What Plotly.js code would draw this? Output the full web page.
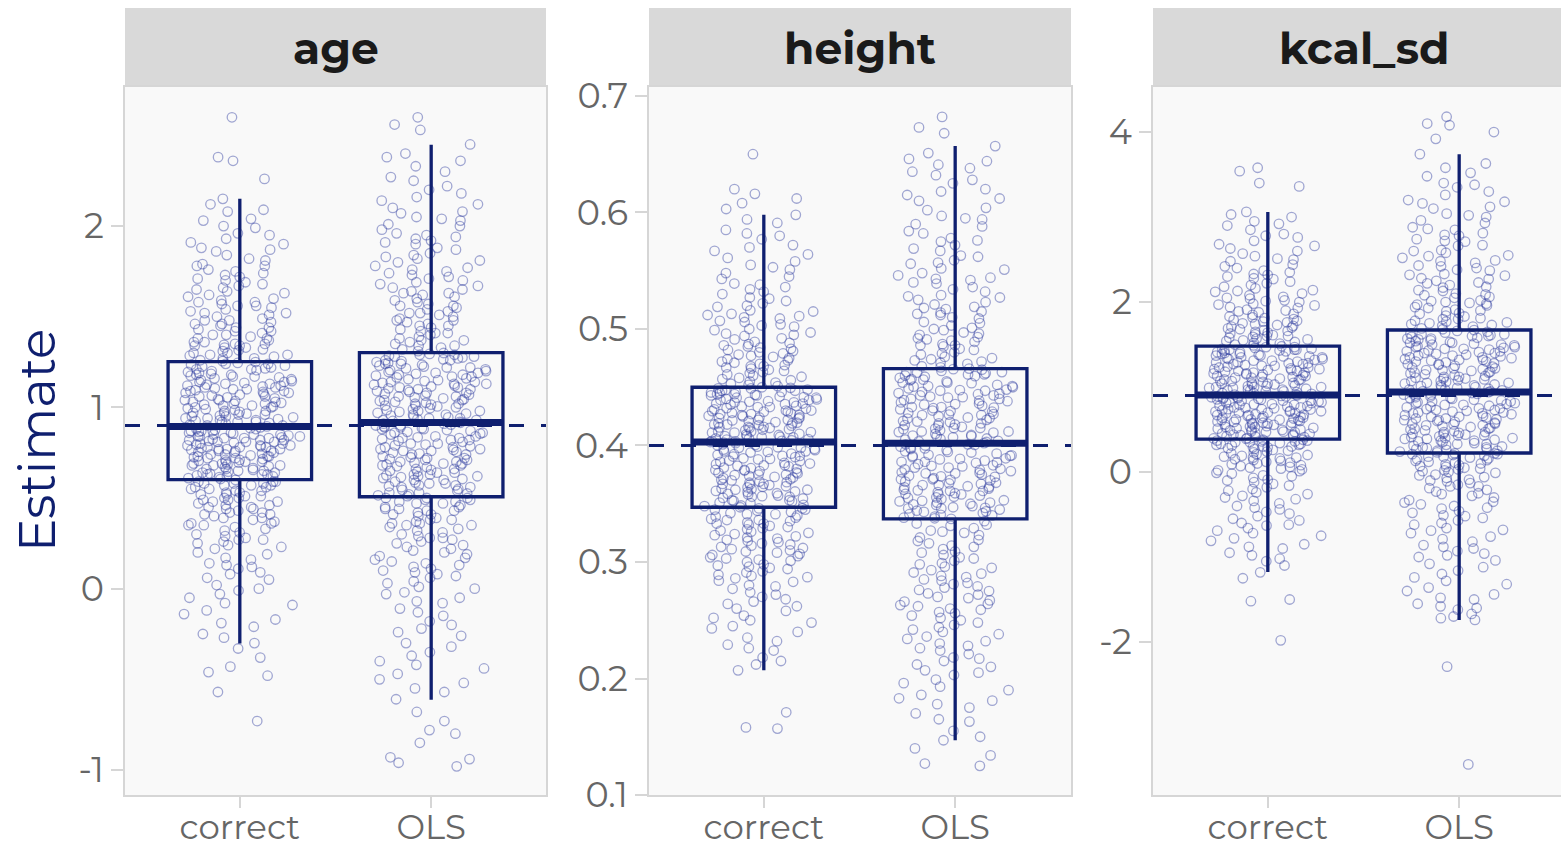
<!DOCTYPE html>
<html>
<head>
<meta charset="utf-8">
<script src="https://cdn.plot.ly/plotly-3.0.1.min.js"></script>
<style>
  html, body { margin: 0; padding: 0; background: #ffffff; }
  #chart { width: 1561px; height: 847px; }
</style>
</head>
<body>
<div id="chart"></div>
<script>
// Simulated coefficient estimates by method, one panel per covariate
const facets = ['age', 'height', 'kcal_sd'];
const methods = ['correct', 'OLS'];
const trueValues = [0.9, 0.4, 0.9];

// Box summaries: [correct, OLS] per covariate
const q1 = { age: [0.601, 0.507], height: [0.347, 0.337], kcal_sd: [0.388, 0.224] };
const median = { age: [0.894, 0.916], height: [0.403, 0.402], kcal_sd: [0.906, 0.941] };
const q3 = { age: [1.252, 1.302], height: [0.450, 0.466], kcal_sd: [1.482, 1.671] };
const whiskerLow = { age: [-0.303, -0.612], height: [0.207, 0.147], kcal_sd: [-1.176, -1.740] };
const whiskerHigh = { age: [2.151, 2.449], height: [0.598, 0.657], kcal_sd: [3.060, 3.740] };

// Individual replicate estimates
const ageCorrect = [
  -0.73, -0.57, -0.46, -0.43, -0.30, -0.27, -0.21, -0.17, -0.12, -0.09, -0.05, -0.01, 0.02, 0.06, 0.09,
  0.12, 0.14, 0.17, 0.19, 0.22, 0.24, 0.26, 0.28, 0.29, 0.31, 0.33, 0.34, 0.36, 0.37, 0.39, 0.40, 0.41,
  0.43, 0.44, 0.45, 0.46, 0.47, 0.48, 0.49, 0.50, 0.51, 0.51, 0.52, 0.53, 0.54, 0.54, 0.55, 0.56, 0.56,
  0.57, 0.57, 0.58, 0.58, 0.59, 0.59, 0.60, 0.42, 0.35, 0.27, 0.49,
  0.61, 0.62, 0.63, 0.63, 0.64, 0.65, 0.66, 0.66, 0.67, 0.68, 0.68, 0.69, 0.70, 0.70, 0.71, 0.72, 0.72,
  0.73, 0.74, 0.74, 0.75, 0.75, 0.76, 0.77, 0.77, 0.78, 0.78, 0.79, 0.79, 0.80, 0.80, 0.81, 0.81, 0.82,
  0.82, 0.83, 0.83, 0.84, 0.84, 0.85, 0.85, 0.86, 0.86, 0.87, 0.87, 0.88, 0.88, 0.89, 0.62, 0.65, 0.69,
  0.71, 0.73, 0.76, 0.79, 0.82, 0.84, 0.87, 0.64, 0.78,
  0.90, 0.90, 0.91, 0.92, 0.92, 0.93, 0.94, 0.94, 0.95, 0.96, 0.96, 0.97, 0.98, 0.98, 0.99, 1.00, 1.00,
  1.01, 1.02, 1.03, 1.03, 1.04, 1.05, 1.06, 1.06, 1.07, 1.08, 1.09, 1.09, 1.10, 1.11, 1.12, 1.12, 1.13,
  1.14, 1.15, 1.16, 1.17, 1.17, 1.18, 1.19, 1.20, 1.21, 1.22, 1.23, 1.24, 1.25, 0.93, 0.97, 1.01, 1.04,
  1.08, 1.11, 1.14, 1.18, 1.21, 0.95, 1.02, 1.13, 1.24,
  1.26, 1.27, 1.28, 1.29, 1.30, 1.31, 1.32, 1.33, 1.34, 1.35, 1.36, 1.37, 1.38, 1.39, 1.41, 1.42, 1.43,
  1.44, 1.46, 1.47, 1.48, 1.50, 1.51, 1.53, 1.54, 1.56, 1.57, 1.59, 1.61, 1.62, 1.64, 1.66, 1.68, 1.70,
  1.72, 1.74, 1.76, 1.79, 1.81, 1.84, 1.87, 1.90, 1.93, 1.96, 2.00, 2.04, 2.09, 2.15, 2.26, 2.36, 2.38,
  2.60, 1.29, 1.34, 1.40, 1.45, 1.52, 1.58, 1.65, 1.78,
  -0.38, -0.33, -0.25, -0.19, -0.14, -0.08, -0.03, 0.00, 0.05, 0.08, 0.11, 0.13, 0.16, 0.20, 0.23, 0.25,
  0.27, 0.30, 0.32, 0.35, 0.36, 0.38, 0.39, 0.41, 0.42, 0.44, 0.45, 0.46, 0.48, 0.50, 0.52, 0.53, 0.55,
  0.57, 0.58, 0.59, -0.48,
  0.605, 0.615, 0.625, 0.635, 0.645, 0.655, 0.665, 0.675, 0.685, 0.695, 0.705, 0.715, 0.725, 0.735, 0.745,
  0.755, 0.765, 0.775, 0.785, 0.795, 0.805, 0.815, 0.825, 0.835, 0.845, 0.855, 0.865, 0.875, 0.885, 0.63,
  0.68, 0.73, 0.77, 0.81, 0.85, 0.70, 0.76, 0.83,
  0.895, 0.905, 0.915, 0.925, 0.935, 0.945, 0.955, 0.965, 0.975, 0.985, 0.995, 1.005, 1.015, 1.025, 1.035,
  1.045, 1.055, 1.065, 1.075, 1.085, 1.095, 1.105, 1.115, 1.125, 1.135, 1.145, 1.155, 1.165, 1.175, 1.185,
  1.195, 1.205, 1.215, 1.225, 1.235, 1.245, 0.92, 1.10,
  1.255, 1.27, 1.285, 1.30, 1.315, 1.33, 1.345, 1.36, 1.38, 1.40, 1.42, 1.44, 1.46, 1.49, 1.52, 1.55, 1.58,
  1.60, 1.63, 1.67, 1.69, 1.71, 1.75, 1.78, 1.82, 1.86, 1.91, 1.95, 1.99, 2.03, 2.08, 2.12, 1.35, 1.48,
  1.56, 1.73, 1.88
];
const ageOLS = [
  -0.98, -0.96, -0.94, -0.93, -0.80, -0.78, -0.73, -0.61, -0.55, -0.50, -0.47, -0.44, -0.40, -0.35, -0.30,
  -0.26, -0.22, -0.18, -0.15, -0.11, -0.08, -0.05, -0.02, 0.01, 0.04, 0.06, 0.09, 0.11, 0.13, 0.16, 0.18,
  0.20, 0.22, 0.24, 0.26, 0.27, 0.29, 0.31, 0.32, 0.34, 0.35, 0.37, 0.38, 0.39, 0.41, 0.42, 0.43, 0.44,
  0.45, 0.46, 0.47, 0.48, 0.49, 0.50, 0.50, 0.14, 0.28, 0.36, 0.44, 0.07,
  0.51, 0.52, 0.53, 0.55, 0.56, 0.57, 0.58, 0.59, 0.60, 0.61, 0.62, 0.63, 0.64, 0.65, 0.66, 0.67, 0.68,
  0.69, 0.70, 0.71, 0.72, 0.73, 0.74, 0.75, 0.76, 0.77, 0.78, 0.79, 0.80, 0.81, 0.82, 0.83, 0.84, 0.85,
  0.86, 0.87, 0.88, 0.89, 0.90, 0.91, 0.54, 0.58, 0.62, 0.66, 0.70, 0.74, 0.78, 0.82, 0.86, 0.90, 0.56,
  0.63, 0.69, 0.76, 0.83, 0.88, 0.60, 0.72, 0.80, 0.91,
  0.92, 0.93, 0.94, 0.95, 0.96, 0.97, 0.98, 0.99, 1.00, 1.01, 1.02, 1.03, 1.04, 1.05, 1.06, 1.07, 1.08,
  1.09, 1.10, 1.11, 1.12, 1.13, 1.14, 1.15, 1.16, 1.17, 1.18, 1.19, 1.20, 1.21, 1.22, 1.23, 1.24, 1.25,
  1.26, 1.27, 1.28, 1.29, 1.30, 0.94, 0.98, 1.02, 1.06, 1.10, 1.14, 1.18, 1.22, 1.26, 0.96, 1.01, 1.08,
  1.13, 1.19, 1.24, 1.29, 0.93, 1.04, 1.11, 1.17, 1.28,
  1.31, 1.33, 1.35, 1.36, 1.38, 1.40, 1.42, 1.43, 1.45, 1.47, 1.49, 1.51, 1.53, 1.55, 1.57, 1.59, 1.61,
  1.63, 1.65, 1.67, 1.69, 1.71, 1.73, 1.75, 1.77, 1.80, 1.82, 1.85, 1.87, 1.90, 1.92, 1.95, 1.98, 2.01,
  2.04, 2.07, 2.10, 2.14, 2.18, 2.22, 2.27, 2.33, 2.36, 2.40, 2.45, 2.53, 2.56, 2.60, 1.34, 1.41, 1.48,
  1.56, 1.64, 1.72, 1.83, 1.94, 2.05, 1.37, 1.52, 1.68,
  -0.85, -0.68, -0.57, -0.52, -0.42, -0.37, -0.32, -0.24, -0.20, -0.13, -0.07, -0.03, 0.00, 0.03, 0.08,
  0.10, 0.12, 0.15, 0.17, 0.19, 0.21, 0.23, 0.25, 0.28, 0.30, 0.33, 0.35, 0.36, 0.38, 0.40, 0.41, 0.43,
  0.45, 0.47, 0.48, 0.49, 0.50,
  0.515, 0.525, 0.545, 0.565, 0.585, 0.605, 0.615, 0.625, 0.645, 0.655, 0.675, 0.685, 0.695, 0.715, 0.725,
  0.745, 0.755, 0.765, 0.785, 0.795, 0.815, 0.825, 0.835, 0.855, 0.865, 0.875, 0.885, 0.895, 0.905, 0.915,
  0.57, 0.64, 0.71, 0.77, 0.84, 0.89, 0.53, 0.68,
  0.925, 0.935, 0.945, 0.955, 0.965, 0.975, 0.985, 0.995, 1.005, 1.015, 1.025, 1.035, 1.045, 1.055, 1.065,
  1.075, 1.085, 1.095, 1.105, 1.115, 1.125, 1.135, 1.145, 1.155, 1.165, 1.175, 1.185, 1.195, 1.205, 1.215,
  1.225, 1.235, 1.245, 1.255, 1.265, 1.275, 1.285, 1.295,
  1.32, 1.34, 1.37, 1.39, 1.41, 1.44, 1.46, 1.48, 1.50, 1.52, 1.54, 1.56, 1.58, 1.60, 1.62, 1.66, 1.70,
  1.74, 1.78, 1.81, 1.84, 1.88, 1.91, 1.96, 2.00, 2.03, 2.08, 2.12, 2.16, 2.20, 2.25, 2.30, 2.38, 1.45,
  1.63, 1.76, 1.93
];
const heightCorrect = [
  0.157, 0.158, 0.171, 0.207, 0.212, 0.218, 0.224, 0.229, 0.235, 0.240, 0.245, 0.250, 0.254, 0.258, 0.262,
  0.266, 0.270, 0.274, 0.277, 0.280, 0.283, 0.286, 0.289, 0.292, 0.295, 0.297, 0.300, 0.302, 0.305, 0.307,
  0.309, 0.311, 0.313, 0.315, 0.317, 0.319, 0.321, 0.323, 0.325, 0.327, 0.328, 0.330, 0.332, 0.333, 0.335,
  0.336, 0.338, 0.339, 0.341, 0.342, 0.344, 0.345, 0.346, 0.347, 0.226, 0.264, 0.288, 0.303, 0.318, 0.334,
  0.348, 0.349, 0.351, 0.352, 0.353, 0.355, 0.356, 0.357, 0.358, 0.360, 0.361, 0.362, 0.363, 0.365, 0.366,
  0.367, 0.368, 0.369, 0.370, 0.372, 0.373, 0.374, 0.375, 0.376, 0.377, 0.379, 0.380, 0.381, 0.382, 0.383,
  0.384, 0.386, 0.387, 0.388, 0.389, 0.390, 0.391, 0.393, 0.394, 0.395, 0.396, 0.397, 0.398, 0.400, 0.401,
  0.402, 0.403, 0.356, 0.371, 0.385, 0.398, 0.364, 0.378, 0.392,
  0.404, 0.405, 0.406, 0.407, 0.408, 0.409, 0.410, 0.411, 0.412, 0.413, 0.414, 0.415, 0.416, 0.417, 0.418,
  0.419, 0.420, 0.421, 0.422, 0.423, 0.424, 0.425, 0.426, 0.427, 0.428, 0.429, 0.430, 0.431, 0.432, 0.433,
  0.434, 0.435, 0.436, 0.437, 0.438, 0.439, 0.440, 0.441, 0.442, 0.443, 0.444, 0.445, 0.446, 0.447, 0.448,
  0.449, 0.450, 0.407, 0.415, 0.422, 0.429, 0.436, 0.444, 0.411, 0.419, 0.426, 0.433, 0.441, 0.447, 0.404,
  0.452, 0.454, 0.456, 0.458, 0.460, 0.462, 0.464, 0.466, 0.468, 0.470, 0.472, 0.474, 0.476, 0.479, 0.481,
  0.484, 0.486, 0.489, 0.491, 0.494, 0.497, 0.500, 0.503, 0.506, 0.509, 0.512, 0.515, 0.519, 0.522, 0.526,
  0.530, 0.534, 0.538, 0.543, 0.548, 0.553, 0.558, 0.564, 0.570, 0.577, 0.585, 0.591, 0.598, 0.608, 0.616,
  0.620, 0.650, 0.457, 0.463, 0.471, 0.478, 0.487, 0.495, 0.504, 0.513, 0.524, 0.536, 0.551, 0.567, 0.582,
  0.215, 0.232, 0.243, 0.252, 0.260, 0.268, 0.272, 0.279, 0.284, 0.287, 0.291, 0.294, 0.298, 0.301, 0.304,
  0.306, 0.308, 0.310, 0.312, 0.314, 0.316, 0.320, 0.322, 0.324, 0.326, 0.329, 0.331, 0.333, 0.336, 0.337,
  0.340, 0.343, 0.345, 0.346, 0.248, 0.296, 0.341,
  0.3485, 0.3505, 0.3525, 0.3545, 0.3565, 0.3585, 0.3605, 0.3625, 0.3645, 0.3665, 0.3685, 0.3705, 0.3725,
  0.3745, 0.3765, 0.3785, 0.3805, 0.3825, 0.3845, 0.3865, 0.3885, 0.3905, 0.3925, 0.3945, 0.3965, 0.3985,
  0.4005, 0.4025, 0.359, 0.367, 0.375, 0.383, 0.391, 0.399, 0.353, 0.362, 0.379, 0.395,
  0.4035, 0.4045, 0.4055, 0.4075, 0.4095, 0.4115, 0.4135, 0.4155, 0.4175, 0.4195, 0.4215, 0.4235, 0.4255,
  0.4275, 0.4295, 0.4315, 0.4335, 0.4355, 0.4375, 0.4395, 0.4415, 0.4435, 0.4455, 0.4475, 0.4495, 0.406,
  0.412, 0.418, 0.424, 0.430, 0.437, 0.443, 0.449, 0.408, 0.416, 0.427, 0.439, 0.446,
  0.451, 0.453, 0.455, 0.459, 0.461, 0.465, 0.467, 0.469, 0.473, 0.475, 0.477, 0.480, 0.483, 0.485, 0.488,
  0.492, 0.496, 0.499, 0.502, 0.507, 0.511, 0.516, 0.520, 0.527, 0.532, 0.539, 0.545, 0.555, 0.561, 0.572,
  0.580, 0.594, 0.603, 0.612, 0.468, 0.482, 0.510
];
const heightOLS = [
  0.125, 0.127, 0.134, 0.140, 0.147, 0.155, 0.163, 0.170, 0.178, 0.181, 0.186, 0.190, 0.196, 0.203, 0.207,
  0.212, 0.217, 0.221, 0.226, 0.230, 0.234, 0.238, 0.242, 0.246, 0.250, 0.254, 0.257, 0.260, 0.264, 0.267,
  0.270, 0.273, 0.276, 0.279, 0.282, 0.285, 0.288, 0.291, 0.293, 0.296, 0.299, 0.301, 0.304, 0.306, 0.309,
  0.311, 0.314, 0.316, 0.318, 0.321, 0.323, 0.325, 0.327, 0.329, 0.331, 0.333, 0.335, 0.337, 0.218, 0.262,
  0.338, 0.339, 0.341, 0.342, 0.343, 0.345, 0.346, 0.347, 0.349, 0.350, 0.351, 0.353, 0.354, 0.355, 0.357,
  0.358, 0.359, 0.361, 0.362, 0.363, 0.365, 0.366, 0.367, 0.369, 0.370, 0.371, 0.373, 0.374, 0.375, 0.377,
  0.378, 0.379, 0.381, 0.382, 0.383, 0.385, 0.386, 0.387, 0.389, 0.390, 0.391, 0.393, 0.394, 0.395, 0.397,
  0.398, 0.399, 0.401, 0.402, 0.344, 0.352, 0.360, 0.368, 0.376, 0.384, 0.392, 0.400, 0.348, 0.364, 0.380,
  0.403, 0.404, 0.406, 0.407, 0.408, 0.410, 0.411, 0.412, 0.414, 0.415, 0.416, 0.418, 0.419, 0.420, 0.422,
  0.423, 0.424, 0.426, 0.427, 0.428, 0.430, 0.431, 0.432, 0.434, 0.435, 0.436, 0.438, 0.439, 0.440, 0.442,
  0.443, 0.444, 0.446, 0.447, 0.448, 0.450, 0.451, 0.452, 0.454, 0.455, 0.456, 0.458, 0.459, 0.460, 0.462,
  0.463, 0.464, 0.466, 0.409, 0.417, 0.425, 0.433, 0.441, 0.449, 0.457, 0.465, 0.413, 0.429, 0.445, 0.461,
  0.468, 0.470, 0.472, 0.474, 0.476, 0.478, 0.480, 0.483, 0.485, 0.487, 0.490, 0.492, 0.495, 0.497, 0.500,
  0.503, 0.506, 0.509, 0.512, 0.515, 0.518, 0.521, 0.525, 0.528, 0.532, 0.536, 0.540, 0.544, 0.548, 0.552,
  0.557, 0.562, 0.567, 0.572, 0.578, 0.584, 0.590, 0.597, 0.604, 0.612, 0.620, 0.628, 0.635, 0.641, 0.646,
  0.651, 0.657, 0.668, 0.682, 0.673, 0.473, 0.486, 0.499, 0.513, 0.527, 0.543, 0.559, 0.576, 0.594, 0.615,
  0.150, 0.165, 0.175, 0.183, 0.193, 0.199, 0.205, 0.210, 0.215, 0.224, 0.228, 0.232, 0.236, 0.240, 0.244,
  0.248, 0.252, 0.256, 0.259, 0.263, 0.266, 0.269, 0.272, 0.275, 0.278, 0.281, 0.284, 0.287, 0.290, 0.295,
  0.298, 0.303, 0.308, 0.313, 0.319, 0.326, 0.332,
  0.3375, 0.3405, 0.3435, 0.3465, 0.3495, 0.3525, 0.3555, 0.3585, 0.3615, 0.3645, 0.3675, 0.3705, 0.3735,
  0.3765, 0.3795, 0.3825, 0.3855, 0.3885, 0.3915, 0.3945, 0.3975, 0.4005, 0.340, 0.346, 0.351, 0.356, 0.361,
  0.366, 0.371, 0.376, 0.381, 0.386, 0.391, 0.396, 0.401, 0.358, 0.372, 0.388,
  0.4035, 0.4055, 0.4085, 0.4115, 0.4145, 0.4175, 0.4205, 0.4235, 0.4265, 0.4295, 0.4325, 0.4355, 0.4385,
  0.4415, 0.4445, 0.4475, 0.4505, 0.4535, 0.4565, 0.4595, 0.4625, 0.4655, 0.405, 0.412, 0.419, 0.426, 0.433,
  0.440, 0.447, 0.454, 0.461, 0.408, 0.421, 0.437, 0.451, 0.463, 0.415, 0.443,
  0.467, 0.471, 0.475, 0.479, 0.482, 0.486, 0.489, 0.493, 0.496, 0.501, 0.505, 0.510, 0.514, 0.519, 0.523,
  0.529, 0.534, 0.539, 0.546, 0.551, 0.556, 0.563, 0.569, 0.575, 0.582, 0.588, 0.595, 0.602, 0.610, 0.618,
  0.625, 0.632, 0.638, 0.644, 0.491, 0.517, 0.542
];
const kcalCorrect = [
  -1.98, -1.52, -1.50, -1.18, -1.10, -1.02, -0.95, -0.88, -0.81, -0.75, -0.69, -0.63, -0.57, -0.52, -0.47,
  -0.42, -0.37, -0.32, -0.28, -0.24, -0.20, -0.16, -0.12, -0.09, -0.05, -0.02, 0.01, 0.04, 0.07, 0.09,
  0.12, 0.14, 0.16, 0.18, 0.20, 0.22, 0.24, 0.26, 0.28, 0.30, 0.31, 0.33, 0.34, 0.36, 0.37, 0.38, -0.72,
  -0.44, -0.18, 0.03, 0.17, 0.29, 0.35, -0.60, -0.30, -0.07, 0.11, 0.23, 0.32, -0.90,
  0.40, 0.41, 0.43, 0.44, 0.46, 0.47, 0.49, 0.50, 0.52, 0.53, 0.55, 0.56, 0.58, 0.59, 0.61, 0.62, 0.64,
  0.65, 0.67, 0.68, 0.70, 0.71, 0.73, 0.74, 0.76, 0.77, 0.79, 0.80, 0.82, 0.83, 0.85, 0.86, 0.88, 0.89,
  0.90, 0.42, 0.48, 0.54, 0.60, 0.66, 0.72, 0.78, 0.84, 0.45, 0.51, 0.57, 0.63, 0.69, 0.75, 0.81, 0.87,
  0.39, 0.53, 0.67, 0.79, 0.88, 0.58, 0.71, 0.84, 0.62,
  0.92, 0.94, 0.96, 0.98, 1.00, 1.02, 1.04, 1.06, 1.08, 1.10, 1.12, 1.14, 1.16, 1.18, 1.20, 1.22, 1.24,
  1.26, 1.28, 1.30, 1.32, 1.34, 1.36, 1.38, 1.40, 1.42, 1.44, 1.46, 1.48, 0.95, 1.01, 1.07, 1.13, 1.19,
  1.25, 1.31, 1.37, 1.43, 0.93, 0.99, 1.05, 1.11, 1.17, 1.23, 1.29, 1.35, 1.41, 1.47, 0.97, 1.09, 1.21,
  1.33, 1.45, 1.03, 1.15, 1.27, 1.39, 0.91, 1.44, 1.00,
  1.50, 1.52, 1.55, 1.57, 1.60, 1.62, 1.65, 1.67, 1.70, 1.73, 1.76, 1.79, 1.82, 1.85, 1.88, 1.91, 1.94,
  1.98, 2.02, 2.06, 2.10, 2.14, 2.18, 2.22, 2.27, 2.32, 2.37, 2.42, 2.48, 2.54, 2.60, 2.66, 2.72, 2.78,
  2.85, 2.92, 3.00, 3.06, 3.36, 3.40, 3.54, 3.58, 1.53, 1.58, 1.63, 1.69, 1.75, 1.81, 1.89, 1.96, 2.04,
  2.12, 2.20, 2.30, 2.40, 2.51, 2.63, 2.76, 2.90, 1.71,
  -1.25, -1.05, -0.98, -0.85, -0.78, -0.66, -0.55, -0.49, -0.40, -0.34, -0.26, -0.22, -0.14, -0.10, -0.04,
  -0.01, 0.02, 0.06, 0.08, 0.10, 0.13, 0.15, 0.17, 0.19, 0.21, 0.25, 0.27, 0.29, 0.30, 0.32, 0.33, 0.35,
  0.36, 0.37, 0.38, -0.62, 0.05,
  0.395, 0.415, 0.435, 0.455, 0.475, 0.495, 0.515, 0.535, 0.555, 0.575, 0.595, 0.615, 0.635, 0.655, 0.675,
  0.695, 0.715, 0.735, 0.755, 0.775, 0.795, 0.815, 0.835, 0.855, 0.875, 0.895, 0.44, 0.50, 0.56, 0.64,
  0.70, 0.76, 0.82, 0.86, 0.47, 0.61, 0.74, 0.89,
  0.91, 0.93, 0.95, 0.97, 0.99, 1.01, 1.03, 1.05, 1.07, 1.09, 1.11, 1.13, 1.15, 1.17, 1.19, 1.21, 1.23,
  1.25, 1.27, 1.29, 1.31, 1.33, 1.35, 1.37, 1.39, 1.41, 1.43, 1.45, 1.47, 0.96, 1.04, 1.12, 1.20, 1.28,
  1.36, 1.44, 1.00, 1.16,
  1.49, 1.51, 1.54, 1.56, 1.59, 1.61, 1.64, 1.66, 1.68, 1.72, 1.74, 1.77, 1.80, 1.83, 1.86, 1.90, 1.93,
  1.97, 2.00, 2.05, 2.08, 2.13, 2.16, 2.24, 2.28, 2.35, 2.44, 2.50, 2.57, 2.68, 2.80, 2.95, 3.03, 1.60,
  1.78, 2.01, 2.33
];
const kcalOLS = [
  -3.44, -2.29, -1.74, -1.70, -1.62, -1.55, -1.48, -1.40, -1.32, -1.24, -1.16, -1.08, -1.00, -0.93, -0.86,
  -0.79, -0.72, -0.66, -0.60, -0.54, -0.48, -0.43, -0.38, -0.33, -0.28, -0.23, -0.19, -0.15, -0.11, -0.07,
  -0.04, -0.01, 0.02, 0.05, 0.08, 0.10, 0.13, 0.15, 0.17, 0.19, 0.21, 0.22, -1.58, -1.20, -0.96, -0.69,
  -0.51, -0.35, -0.17, 0.00, 0.12, -1.36, -0.82, -0.25, 0.07, 0.18, -1.67, -1.04, -0.57, -0.09,
  0.24, 0.26, 0.28, 0.30, 0.32, 0.34, 0.36, 0.38, 0.40, 0.42, 0.44, 0.46, 0.48, 0.50, 0.52, 0.54, 0.56,
  0.58, 0.60, 0.62, 0.64, 0.66, 0.68, 0.70, 0.72, 0.74, 0.76, 0.78, 0.80, 0.82, 0.84, 0.86, 0.88, 0.90,
  0.92, 0.94, 0.27, 0.33, 0.39, 0.45, 0.51, 0.57, 0.63, 0.69, 0.75, 0.81, 0.87, 0.93, 0.29, 0.37, 0.47,
  0.55, 0.65, 0.73, 0.83, 0.91, 0.25, 0.43, 0.61, 0.79,
  0.96, 0.98, 1.01, 1.03, 1.06, 1.08, 1.11, 1.13, 1.16, 1.18, 1.21, 1.23, 1.26, 1.28, 1.31, 1.33, 1.36,
  1.38, 1.41, 1.43, 1.46, 1.48, 1.51, 1.53, 1.56, 1.58, 1.61, 1.63, 1.66, 0.99, 1.04, 1.09, 1.14, 1.19,
  1.24, 1.29, 1.34, 1.39, 1.44, 1.49, 1.54, 1.59, 1.64, 0.97, 1.07, 1.17, 1.27, 1.37, 1.47, 1.57, 1.67,
  1.02, 1.22, 1.42, 1.62, 1.12, 1.32, 1.52, 0.95, 1.45,
  1.69, 1.72, 1.75, 1.78, 1.81, 1.84, 1.87, 1.91, 1.94, 1.98, 2.02, 2.06, 2.10, 2.14, 2.18, 2.23, 2.28,
  2.33, 2.38, 2.43, 2.49, 2.55, 2.61, 2.67, 2.74, 2.81, 2.88, 2.96, 3.04, 3.12, 3.20, 3.30, 3.40, 3.52,
  3.63, 3.74, 3.92, 4.00, 4.08, 4.10, 4.18, 1.73, 1.80, 1.89, 1.99, 2.08, 2.20, 2.31, 2.46, 2.58, 2.71,
  2.85, 3.00, 3.16, 3.35, 1.76, 1.96, 2.25, 2.52, 2.79,
  -1.72, -1.60, -1.50, -1.44, -1.28, -1.12, -0.98, -0.90, -0.76, -0.68, -0.62, -0.52, -0.46, -0.40, -0.36,
  -0.30, -0.26, -0.21, -0.17, -0.13, -0.10, -0.06, -0.03, 0.01, 0.03, 0.04, 0.06, 0.09, 0.11, 0.14, 0.16,
  0.18, 0.20, 0.21, 0.22, -0.88, -0.42,
  0.23, 0.25, 0.27, 0.29, 0.31, 0.33, 0.35, 0.37, 0.39, 0.41, 0.43, 0.45, 0.47, 0.49, 0.51, 0.53, 0.55,
  0.57, 0.59, 0.61, 0.63, 0.65, 0.67, 0.69, 0.71, 0.73, 0.75, 0.77, 0.79, 0.81, 0.83, 0.85, 0.87, 0.89,
  0.91, 0.93, 0.40, 0.70,
  0.95, 0.97, 1.00, 1.02, 1.05, 1.07, 1.10, 1.12, 1.15, 1.17, 1.20, 1.22, 1.25, 1.27, 1.30, 1.32, 1.35,
  1.37, 1.40, 1.42, 1.45, 1.47, 1.50, 1.52, 1.55, 1.57, 1.60, 1.62, 1.65, 1.00, 1.10, 1.20, 1.30, 1.40,
  1.50, 1.60, 1.05, 1.35,
  1.68, 1.71, 1.74, 1.77, 1.80, 1.83, 1.86, 1.90, 1.93, 1.97, 2.01, 2.05, 2.09, 2.13, 2.17, 2.22, 2.27,
  2.32, 2.37, 2.42, 2.48, 2.54, 2.60, 2.66, 2.72, 2.78, 2.86, 2.93, 3.02, 3.10, 3.18, 3.26, 3.38, 3.48,
  3.58, 2.00, 2.40
];
const samples = {
  age: [ageCorrect, ageOLS],
  height: [heightCorrect, heightOLS],
  kcal_sd: [kcalCorrect, kcalOLS]
};

// Axis ticks per panel
const yTickVals = { age: [-1, 0, 1, 2], height: [0.1, 0.2, 0.3, 0.4, 0.5, 0.6, 0.7], kcal_sd: [-2, 0, 2, 4] };
const yTickText = { age: ['-1', '0', '1', '2'], height: ['0.1', '0.2', '0.3', '0.4', '0.5', '0.6', '0.7'], kcal_sd: ['-2', '0', '2', '4'] };

// ---- styling ----
const W = 1561, H = 847;
const NAVY = '#0f1f6f';
const POINT = 'rgba(45, 60, 160, 0.44)';
const FRAME = '#d6d6d6';
const FONT = 'Montserrat, "Open Sans", "DejaVu Sans", sans-serif';
const TICK_FONT = { family: FONT, size: 35, color: '#666666' };
const X_TICK_FONT = { family: FONT, size: 34, color: '#666666' };

// panel geometry in pixels
const panelX = [[125, 546], [649, 1071], [1153, 1561]];
const panelTop = 87, panelBottom = 795, stripTop = 8;
const yRanges = { age: [-1.138, 2.767], height: [0.1, 0.7077], kcal_sd: [-3.8, 4.53] };
const pxPerCat = 421 / 2.2;

// Jitter is spread evenly along each cloud by drawing it in value bands,
// so sparse tails spread as wide as the dense middle.
const bandCuts = [0, 0.05, 0.14, 0.27, 0.5, 0.73, 0.86, 0.95, 1];

const px = v => v / W;
const py = v => 1 - v / H;

const traces = [];
const layout = {
  width: W, height: H,
  margin: { l: 0, r: 0, t: 0, b: 0 },
  paper_bgcolor: '#ffffff',
  plot_bgcolor: '#f9f9f9',
  showlegend: false,
  boxmode: 'overlay',
  hovermode: false,
  shapes: [],
  annotations: []
};

facets.forEach((f, i) => {
  const n = i === 0 ? '' : String(i + 1);
  const xa = 'x' + n, ya = 'y' + n;
  const [x0, x1] = panelX[i];
  const xr = [-0.6, -0.6 + (x1 - x0) / pxPerCat];

  layout['xaxis' + n] = {
    domain: [px(x0), px(x1)],
    anchor: ya,
    type: 'category',
    categoryorder: 'array',
    categoryarray: methods,
    range: xr,
    showgrid: false, zeroline: false,
    showline: true, linecolor: FRAME, linewidth: 2, mirror: true,
    ticks: 'outside', ticklen: 11, tickwidth: 2, tickcolor: FRAME,
    ticklabelstandoff: -10,
    tickfont: X_TICK_FONT,
    fixedrange: true
  };
  layout['yaxis' + n] = {
    domain: [py(panelBottom), py(panelTop)],
    anchor: xa,
    range: yRanges[f],
    tickvals: yTickVals[f],
    ticktext: yTickText[f],
    showgrid: false, zeroline: false,
    showline: true, linecolor: FRAME, linewidth: 2, mirror: true,
    ticks: 'outside', ticklen: 12, tickwidth: 2, tickcolor: FRAME,
    tickfont: TICK_FONT,
    fixedrange: true
  };

  methods.forEach((m, j) => {
    const sorted = samples[f][j].slice().sort((a, b) => a - b);
    const N = sorted.length;
    // jittered replicate estimates, one trace per value band
    for (let b = 0; b < bandCuts.length - 1; b++) {
      const band = sorted.slice(Math.round(bandCuts[b] * N), Math.round(bandCuts[b + 1] * N));
      traces.push({
        type: 'box', xaxis: xa, yaxis: ya,
        x: band.map(() => m), y: band,
        boxpoints: 'all', jitter: 0.84, pointpos: 0,
        width: 0.75,
        line: { width: 0, color: 'rgba(0,0,0,0)' },
        fillcolor: 'rgba(0,0,0,0)',
        marker: { symbol: 'circle-open', size: 9.5, color: POINT, line: { width: 1.3, color: POINT } },
        hoverinfo: 'skip'
      });
    }
    // box and whiskers
    traces.push({
      type: 'box', xaxis: xa, yaxis: ya,
      x: [m],
      q1: [q1[f][j]], median: [median[f][j]], q3: [q3[f][j]],
      lowerfence: [whiskerLow[f][j]], upperfence: [whiskerHigh[f][j]],
      boxpoints: false, width: 0.75, whiskerwidth: 0,
      line: { width: 3.3, color: NAVY },
      fillcolor: 'rgba(0,0,0,0)',
      hoverinfo: 'skip'
    });
    // heavier median bar
    traces.push({
      type: 'box', xaxis: xa, yaxis: ya,
      x: [m],
      q1: [median[f][j]], median: [median[f][j]], q3: [median[f][j]],
      lowerfence: [median[f][j]], upperfence: [median[f][j]],
      boxpoints: false, width: 0.745, whiskerwidth: 0,
      line: { width: 7, color: NAVY },
      fillcolor: 'rgba(0,0,0,0)',
      hoverinfo: 'skip'
    });
  });

  // true value reference line
  layout.shapes.push({
    type: 'line', xref: xa + ' domain', yref: ya,
    x0: 0, x1: 1, y0: trueValues[i], y1: trueValues[i],
    line: { color: NAVY, width: 3, dash: '15px,17px' },
    layer: 'above'
  });

  // facet strip
  layout.shapes.push({
    type: 'rect', xref: 'paper', yref: 'paper',
    x0: px(x0), x1: px(x1), y0: py(panelTop), y1: py(stripTop),
    fillcolor: '#d9d9d9', line: { width: 0 }, layer: 'below'
  });
  layout.annotations.push({
    xref: 'paper', yref: 'paper',
    x: px((x0 + x0 + 421) / 2), y: py((stripTop + panelTop) / 2),
    xanchor: 'center', yanchor: 'middle', showarrow: false,
    text: '<b>' + f + '</b>',
    font: { family: FONT, size: 44, color: '#1a1a1a' }
  });
});

layout.annotations.push({
  xref: 'paper', yref: 'paper',
  x: px(37), y: py(441),
  xanchor: 'center', yanchor: 'middle', showarrow: false,
  textangle: -90,
  text: 'Estimate',
  font: { family: FONT, size: 50, color: NAVY }
});

Plotly.newPlot('chart', traces, layout, { staticPlot: true, displayModeBar: false });
</script>
</body>
</html>
